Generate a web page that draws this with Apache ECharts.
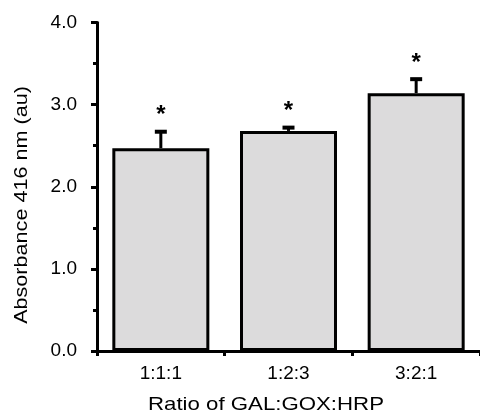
<!DOCTYPE html>
<html>
<head>
<meta charset="utf-8">
<script src="https://cdn.jsdelivr.net/npm/echarts@6/dist/echarts.min.js"></script>
<style>
html,body{margin:0;padding:0;background:#fff;}
#chart{width:480px;height:417px;}
</style>
</head>
<body>
<div id="chart"></div>
<script>
var categories = ['1:1:1', '1:2:3', '3:2:1'];
var means = [2.47, 2.68, 3.14];
var errors = [0.20, 0.04, 0.17];
var significance = ['*', '*', '*'];
var yTickValues = [0, 1, 2, 3, 4];
var yAxisTitle = 'Absorbance 416 nm (au)';
var xAxisTitle = 'Ratio of GAL:GOX:HRP';

var FONT = 'Liberation Sans';
var chart = echarts.init(document.getElementById('chart'), null, {renderer: 'canvas'});

var errData = means.map(function (m, i) { return [i, m, errors[i]]; });

chart.setOption({
  animation: false,
  backgroundColor: '#ffffff',
  grid: {left: 97, right: -2, top: 22.5, bottom: 66, containLabel: false},
  xAxis: {
    type: 'category',
    data: categories,
    axisLine: {lineStyle: {color: '#000', width: 3}},
    axisTick: {show: true, inside: false, length: 5, interval: 0, alignWithLabel: false, lineStyle: {color: '#000', width: 3}},
    axisLabel: {color: '#000', fontFamily: FONT, fontSize: 19, margin: 13, interval: 0},
    splitLine: {show: false}
  },
  yAxis: {
    type: 'value',
    min: yTickValues[0],
    max: yTickValues[yTickValues.length - 1],
    interval: 1,
    axisLine: {show: true, lineStyle: {color: '#000', width: 3}},
    axisTick: {show: true, inside: false, length: 6, lineStyle: {color: '#000', width: 3}},
    minorTick: {show: true, splitNumber: 2, length: 4, lineStyle: {color: '#000', width: 3}},
    axisLabel: {color: '#000', fontFamily: FONT, fontSize: 19, margin: 20,
      formatter: function (v) { return v.toFixed(1); }},
    splitLine: {show: false}
  },
  graphic: [
    {type: 'text', x: 266, y: 405, scaleX: 1.17,
      style: {text: xAxisTitle, fontFamily: FONT, fontSize: 19, fill: '#000', align: 'center', verticalAlign: 'middle'}},
    {type: 'text', x: 22, y: 205, rotation: Math.PI / 2, scaleX: 1.2,
      style: {text: yAxisTitle, fontFamily: FONT, fontSize: 18, fill: '#000', align: 'center', verticalAlign: 'middle'}}
  ],
  series: [
    {
      type: 'bar',
      data: means,
      barWidth: 97,
      itemStyle: {color: '#dcdbdc', borderColor: '#000', borderWidth: 3},
      z: 2
    },
    {
      type: 'custom',
      data: errData,
      z: 3,
      renderItem: function (params, api) {
        var idx = api.value(0);
        var m = api.value(1);
        var e = api.value(2);
        var base = api.coord([idx, m]);
        var top = api.coord([idx, m + e]);
        var capHalf = 6;
        return {
          type: 'group',
          children: [
            {type: 'line', shape: {x1: base[0], y1: base[1], x2: top[0], y2: top[1]},
              style: {stroke: '#000', lineWidth: 3}},
            {type: 'line', shape: {x1: top[0] - capHalf, y1: top[1], x2: top[0] + capHalf, y2: top[1]},
              style: {stroke: '#000', lineWidth: 4}},
            {type: 'text', x: top[0], y: top[1] - 16,
              style: {text: significance[params.dataIndex], fontFamily: FONT, fontSize: 24, fontWeight: 'bold',
                fill: '#000', align: 'center', verticalAlign: 'middle'}}
          ]
        };
      }
    }
  ]
});
</script>
</body>
</html>
